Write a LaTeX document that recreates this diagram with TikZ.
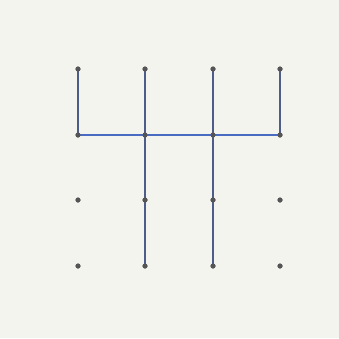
\documentclass[tikz,border=0pt]{standalone}
\usetikzlibrary{calc}
\definecolor{paper}{HTML}{F4F4EF}
\definecolor{vline}{HTML}{4E5C8A}
\definecolor{hline}{HTML}{4A6BC2}
\definecolor{dotc}{HTML}{555555}
\tikzset{
  gdot/.style={circle,fill=dotc,inner sep=0pt,minimum size=5pt},
  vstroke/.style={draw=vline,line width=1.9pt,line cap=round},
  hstroke/.style={draw=hline,line width=2pt,line cap=round}
}
\begin{document}
\begin{tikzpicture}[x=1pt,y=-1pt]
\useasboundingbox (0,0) rectangle (339,338);
\fill[paper] (0,0) rectangle (339,338);
\foreach \c/\x in {1/78,2/145,3/213,4/280}{
  \foreach \r/\y in {1/69,2/135,3/200,4/266}{
    \node[gdot] (d\c\r) at (\x,\y) {};
  }
}
\draw[vstroke] (d11.center) -- (d12.center);
\draw[vstroke] (d21.center) -- (d24.center);
\draw[vstroke] (d31.center) -- (d34.center);
\draw[vstroke] (d41.center) -- (d42.center);
\draw[hstroke] (d12.center) -- (d22.center) -- (d32.center) -- (d42.center);
\foreach \c in {1,2,3,4}{\foreach \r in {1,2,3,4}{\node[gdot] at (d\c\r) {};}}
\end{tikzpicture}
\end{document}
